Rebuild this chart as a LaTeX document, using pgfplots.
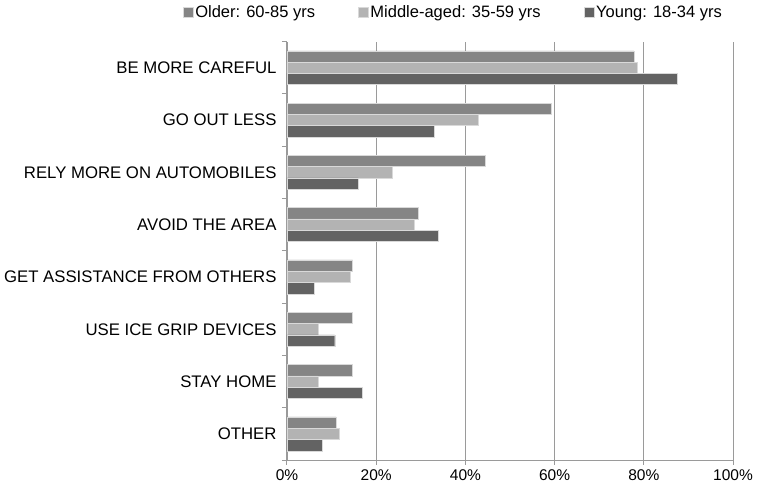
\documentclass[border=0pt]{standalone}
\usepackage{pgfplots}
\pgfplotsset{compat=1.18}
\usepackage{fontspec}
\setmainfont{Liberation Sans}
\definecolor{cold}{HTML}{858585}
\definecolor{cmid}{HTML}{B3B3B3}
\definecolor{cyoung}{HTML}{636363}
\definecolor{gridc}{HTML}{9A9A9A}
\begin{document}
\begin{tikzpicture}
\begin{axis}[
  at={(0,0)}, anchor=south west,
  scale only axis, width=446pt, height=418.4pt,
  xbar, bar width=11.3pt,
  xmin=0, xmax=100, ymin=-0.5, ymax=7.5,
  axis x line=bottom, axis y line=left,
  axis line style={gridc, line width=0.8pt, -},
  xtick={0,20,40,60,80,100},
  xticklabel={\pgfmathprintnumber{\tick}\%},
  /pgf/number format/assume math mode=true,
  xmajorgrids, grid style={gridc, line width=1pt},
  major x tick style={gridc, line width=1pt},
  x tick label style={font=\fontsize{15.5}{18}\selectfont, yshift=-1pt},
  xtick align=outside, major tick length=5pt,
  ytick={0,...,7},
  yticklabels={OTHER,STAY HOME,USE ICE GRIP DEVICES,GET ASSISTANCE FROM OTHERS,AVOID THE AREA,RELY MORE ON AUTOMOBILES,GO OUT LESS,BE MORE CAREFUL},
  y tick label style={font=\fontsize{16.75}{20}\selectfont, xshift=-2pt},
  major y tick style={draw=none},
  minor ytick={-0.5,0.5,...,7.5},
  minor y tick style={gridc, line width=0.8pt},
  minor tick length=5pt, ytick align=outside,
  legend columns=3,
  legend style={at={(0.373,1)}, anchor=center, yshift=29.6pt, draw=none,
    font=\fontsize{16.5}{19}\selectfont, /tikz/every even column/.append style={column sep=41pt}},
  legend image code/.code={\fill[#1] (0pt,-5pt) rectangle (10pt,5pt);},
  legend cell align=left,
]
\addplot[fill=cold, draw=white!85!black, line width=0.4pt, bar shift=11.3pt] coordinates {
(11.0,0) (14.7,1) (14.7,2) (14.7,3) (29.5,4) (44.4,5) (59.3,6) (77.8,7)};
\addlegendentry{Older: 60-85 yrs}
\addplot[fill=cmid, draw=white!85!black, line width=0.4pt, bar shift=0pt] coordinates {
(11.8,0) (7.0,1) (7.0,2) (14.2,3) (28.5,4) (23.7,5) (42.9,6) (78.6,7)};
\addlegendentry{Middle-aged: 35-59 yrs}
\addplot[fill=cyoung, draw=white!85!black, line width=0.4pt, bar shift=-11.3pt] coordinates {
(8.0,0) (16.9,1) (10.7,2) (6.1,3) (33.9,4) (16.0,5) (33.0,6) (87.5,7)};
\addlegendentry{Young: 18-34 yrs}
\end{axis}
\pgfresetboundingbox
\path (-287pt,-26pt) rectangle (473pt,460pt);
\end{tikzpicture}
\end{document}
